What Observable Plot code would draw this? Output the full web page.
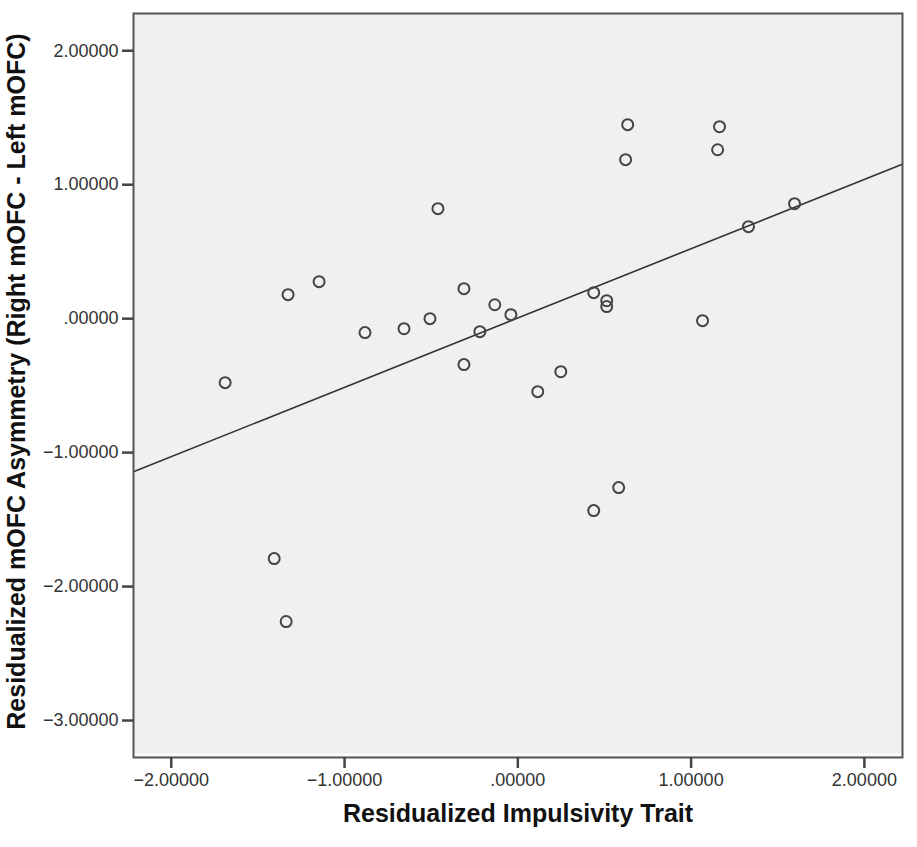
<!DOCTYPE html>
<html>
<head>
<meta charset="utf-8">
<script src="https://cdn.jsdelivr.net/npm/d3@7"></script>
<script src="https://cdn.jsdelivr.net/npm/@observablehq/plot@0.6"></script>
<style>
  html, body { margin: 0; padding: 0; background: #ffffff; }
  #chart svg { display: block; }
</style>
</head>
<body>
<div id="chart"></div>
<script>
// Residualized Impulsivity Trait (x) and Residualized mOFC Asymmetry (y)
const impulsivity = [
  -1.689, -1.406, -1.337, -1.326, -1.147, -0.882, -0.657, -0.507, -0.461, -0.311,
  -0.311, -0.219, -0.133, -0.040, 0.115, 0.248, 0.438, 0.513, 0.513, 0.438,
  0.582, 0.622, 0.634, 1.066, 1.153, 1.164, 1.331, 1.597
];
const asymmetry = [
  -0.478, -1.791, -2.261, 0.179, 0.276, -0.104, -0.075, 0.000, 0.821, 0.224,
  -0.343, -0.097, 0.104, 0.030, -0.545, -0.396, 0.194, 0.134, 0.090, -1.433,
  -1.261, 1.187, 1.448, -0.015, 1.261, 1.433, 0.687, 0.858
];
const xTicks = [-2, -1, 0, 1, 2];
const yTicks = [2, 1, 0, -1, -2, -3];
const xTitle = "Residualized Impulsivity Trait";
const yTitle = "Residualized mOFC Asymmetry (Right mOFC - Left mOFC)";
const xDomain = [-2.218, 2.22];
const yDomain = [-3.276, 2.278];

const points = impulsivity.map((x, i) => ({x, y: asymmetry[i]}));

// least-squares fit line (SPSS "fit line at total")
const mx = d3.mean(impulsivity), my = d3.mean(asymmetry);
const sxy = d3.sum(points, d => (d.x - mx) * (d.y - my));
const sxx = d3.sum(points, d => (d.x - mx) ** 2);
const slope = sxy / sxx, intercept = my - slope * mx;
const fit = xDomain.map(x => ({x, y: intercept + slope * x}));

const fmt = v => {
  const s = d3.format(".5f")(v);
  return s.replace(/^(-?)0\./, "$1.");
};

const chart = Plot.plot({
  width: 917,
  height: 847,
  marginLeft: 133,
  marginRight: 15,
  marginTop: 13,
  marginBottom: 90,
  style: {fontFamily: "'Liberation Sans', Arial, sans-serif", background: "#ffffff", color: "#333"},
  x: {domain: xDomain},
  y: {domain: yDomain},
  marks: [
    Plot.frame({fill: "#f0f0f0", stroke: null}),
    Plot.line(fit, {x: "x", y: "y", stroke: "#333", strokeWidth: 1.6, clip: true}),
    Plot.dot(points, {x: "x", y: "y", r: 5.5, stroke: "#444", strokeWidth: 2, fill: "none"}),
    Plot.frame({anchor: "bottom", stroke: "#ffffff", strokeWidth: 1.5, dy: -3}),
    Plot.frame({stroke: "#555", strokeWidth: 2}),
    Plot.axisX({ticks: xTicks, tickFormat: fmt, tickSize: 11, tickPadding: 5, fontSize: 18, label: null, stroke: "#444", strokeWidth: 2.5}),
    Plot.axisY({ticks: yTicks, tickFormat: fmt, tickSize: 11, tickPadding: 4, fontSize: 18, label: null, stroke: "#444", strokeWidth: 2.5}),
    Plot.text([xTitle], {frameAnchor: "bottom", textAnchor: "middle", dy: 64, fontSize: 25, fontWeight: "bold", fill: "#111"}),
    Plot.text([yTitle], {frameAnchor: "left", textAnchor: "middle", rotate: -90, dx: -117, dy: -4, fontSize: 25, fontWeight: "bold", fill: "#111"})
  ]
});
document.getElementById("chart").appendChild(chart);
</script>
</body>
</html>
